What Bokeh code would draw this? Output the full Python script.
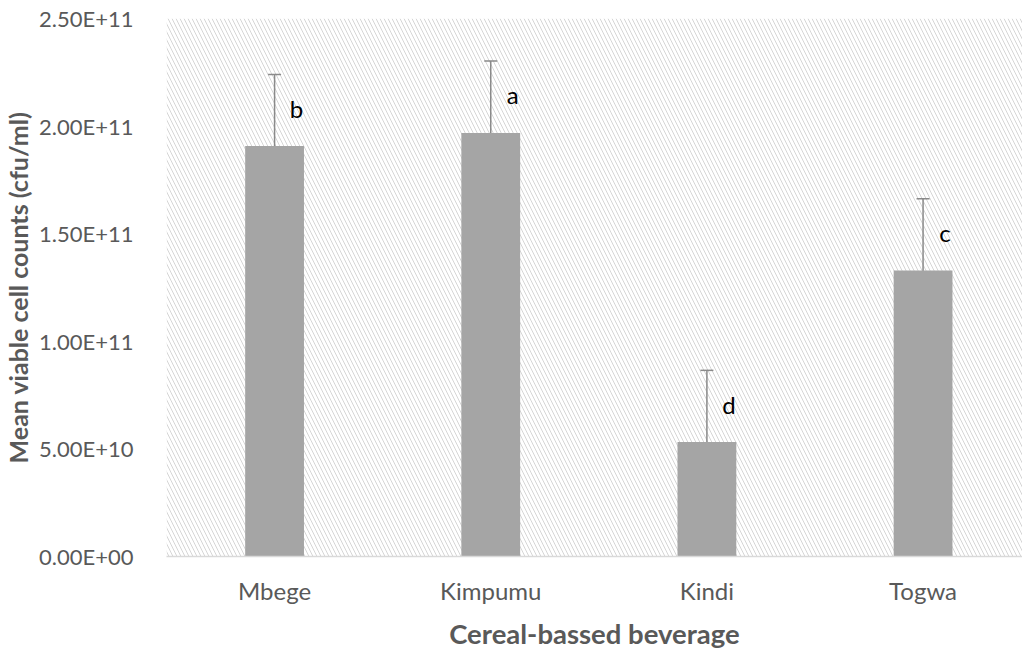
from bokeh.plotting import figure
from bokeh.models import (ColumnDataSource, Whisker, TeeHead, BoxAnnotation, Range1d,
                          FixedTicker, CustomJSTickFormatter, LabelSet)
from bokeh.core.properties import value
from bokeh.embed import file_html
from bokeh.resources import INLINE

categories = ["Mbege", "Kimpumu", "Kindi", "Togwa"]
mean_counts = [1.907e11, 1.968e11, 5.32e10, 1.329e11]
errors = [3.33e10, 3.35e10, 3.33e10, 3.33e10]
letters = ["b", "a", "d", "c"]
y_ticks = [0, 5e10, 1e11, 1.5e11, 2e11, 2.5e11]

xpos = [i + 0.5 for i in range(len(categories))]
src = ColumnDataSource(dict(
    x=xpos, top=mean_counts,
    upper=[m + e for m, e in zip(mean_counts, errors)],
    lower=[m - e for m, e in zip(mean_counts, errors)],
    letter=letters,
))

FONT = "Lato"
GRAY_TXT = "#595959"
XEND = 3.96

p = figure(width=1022, height=652, output_backend="svg", toolbar_location=None,
           x_range=Range1d(0, XEND), y_range=Range1d(0, 2.5e11),
           min_border_left=164, min_border_top=18, min_border_right=0, min_border_bottom=94)
p.outline_line_color = None
p.background_fill_color = "white"
p.grid.grid_line_color = None

# hatched plot area
p.add_layout(BoxAnnotation(left=0, right=XEND, bottom=0, top=2.5e11,
                           fill_alpha=0, line_color=None,
                           hatch_pattern="left_diagonal_line", hatch_color="#d6d6d6",
                           hatch_weight=1.0, hatch_scale=8, level="underlay"))

p.vbar(x="x", top="top", width=0.272, source=src, fill_color="#a5a5a5", line_color=None)

p.add_layout(Whisker(source=src, base="x", upper="upper", lower="lower",
                     line_color="#8a8a8a", line_width=1.5,
                     upper_head=TeeHead(size=13, line_color="#8a8a8a", line_width=1.5),
                     lower_head=TeeHead(size=13, line_color="#8a8a8a", line_width=1.5)))

p.add_layout(LabelSet(source=src, x="x", y="top", text="letter", x_offset=22, y_offset=38,
                      text_font=value(FONT), text_font_size="24px", text_color="black",
                      text_align="center", text_baseline="middle"))

# axes
p.xaxis.ticker = FixedTicker(ticks=xpos)
p.xaxis.major_label_overrides = {x: c for x, c in zip(xpos, categories)}
p.xaxis.axis_line_color = "#d9d9d9"
p.xaxis.axis_line_width = 1.5
p.xaxis.major_tick_line_color = None
p.xaxis.minor_tick_line_color = None
p.xaxis.major_label_text_font = FONT
p.xaxis.major_label_text_font_size = "24px"
p.xaxis.major_label_text_color = GRAY_TXT
p.xaxis.major_label_standoff = 13
p.xaxis.axis_label = "Cereal-bassed beverage"
p.xaxis.axis_label_text_font = FONT
p.xaxis.axis_label_text_font_size = "27.5px"
p.xaxis.axis_label_text_font_style = "bold"
p.xaxis.axis_label_text_color = GRAY_TXT
p.xaxis.axis_label_standoff = 9

p.yaxis.ticker = FixedTicker(ticks=y_ticks)
p.yaxis.formatter = CustomJSTickFormatter(code="""
const s = tick.toExponential(2).toUpperCase();
const parts = s.split('E');
let d = parts[1].slice(1);
if (d.length < 2) { d = '0' + d; }
return parts[0] + 'E' + parts[1][0] + d;
""")
p.yaxis.axis_line_color = None
p.yaxis.major_tick_line_color = None
p.yaxis.minor_tick_line_color = None
p.yaxis.major_label_text_font = FONT
p.yaxis.major_label_text_font_size = "22px"
p.yaxis.major_label_text_color = GRAY_TXT
p.yaxis.major_label_standoff = 27
p.yaxis.axis_label = "Mean viable cell counts (cfu/ml)"
p.yaxis.axis_label_text_font = FONT
p.yaxis.axis_label_text_font_size = "25px"
p.yaxis.axis_label_text_font_style = "bold"
p.yaxis.axis_label_text_color = GRAY_TXT
p.yaxis.axis_label_standoff = 3

open("out.html", "w").write(file_html(p, INLINE))
